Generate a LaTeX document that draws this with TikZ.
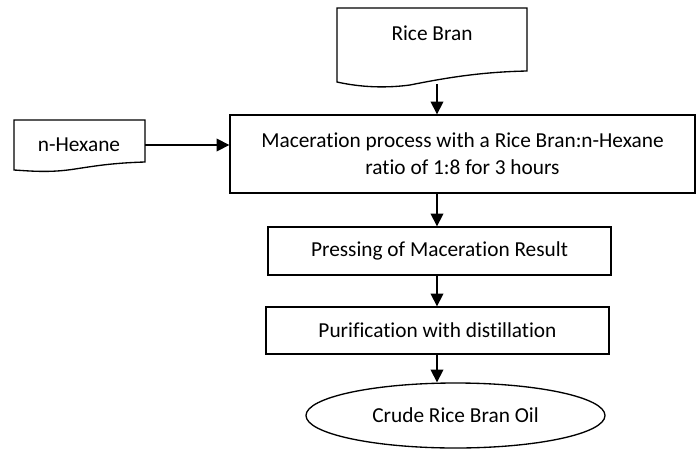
\documentclass[tikz,border=0pt]{standalone}
\usepackage{fontspec}
\setmainfont[Ligatures=NoCommon]{Carlito}
\usetikzlibrary{arrows.meta,shapes.geometric,positioning,calc}

\begin{document}
\begin{tikzpicture}[x=0.75pt,y=-0.75pt,
  lbl/.style={font=\fontsize{16pt}{20.25pt}\selectfont, align=center, inner sep=0pt},
  procbox/.style={draw, line width=1pt, rectangle, font=\fontsize{16pt}{20.25pt}\selectfont, align=center},
  endbox/.style={draw, line width=1pt, ellipse, font=\fontsize{16pt}{20.25pt}\selectfont},
  doc/.style={line width=1pt, line join=miter},
  flow/.style={-{Triangle[length=9.5pt,width=9.5pt]}, line width=1pt}]
\useasboundingbox (0,0) rectangle (696,450);
% Input documents
\draw[doc] (337,8) -- (527,8) -- (527,71) .. controls (480,72) and (445,78) .. (410,85)
  .. controls (380,89) and (355,86) .. (337,82) -- cycle;
\node[lbl] (rb) at (432,33) {Rice Bran};
\coordinate (rbb) at (437,84);
\draw[doc] (14,120) -- (145,120) -- (145,162) .. controls (112,163) and (95,166) .. (75,169)
  .. controls (50,173) and (30,171) .. (14,170) -- cycle;
\node[lbl] (nh) at (79,145) {n-Hexane};
\coordinate (nhr) at (145,145);
% Process steps
\node[procbox, minimum width=348.75pt, minimum height=58.5pt] (mac) at (462.5,154)
  {Maceration process with a Rice Bran:n-Hexane\\ratio of 1:8 for 3 hours};
\node[procbox, minimum width=257.25pt, minimum height=36pt] (press) at (439.5,251)
  {Pressing of Maceration Result};
\node[procbox, minimum width=257.25pt, minimum height=35.25pt] (pur) at (437.5,330.5)
  {Purification with distillation};
\node[endbox, minimum width=224.25pt, minimum height=48.75pt, inner sep=0pt] (oil) at (455.5,415.5)
  {Crude Rice Bran Oil};
% Arrows
\draw[flow] (rbb) -- (rbb |- mac.north);
\draw[flow] (nhr) -- (nhr -| mac.west);
\draw[flow] (rbb |- mac.south) -- (rbb |- press.north);
\draw[flow] (rbb |- press.south) -- (rbb |- pur.north);
\draw[flow] (rbb |- pur.south) -- (rbb |- oil.north);
\end{tikzpicture}
\end{document}
